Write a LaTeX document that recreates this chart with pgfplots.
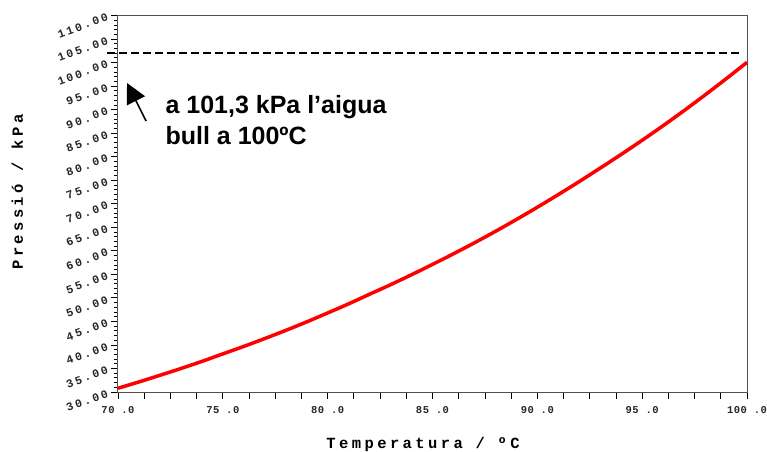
\documentclass[border=0pt]{standalone}
\usepackage{fontspec}
\setmainfont{Liberation Sans}
\newfontfamily\ytf[LetterSpace=20]{Liberation Mono}
\newfontfamily\xtf[LetterSpace=5]{Liberation Mono}
\newfontfamily\labf[LetterSpace=22]{Liberation Mono}
\usepackage{pgfplots}
\pgfplotsset{compat=1.18}
\usetikzlibrary{arrows.meta}
\definecolor{axgray}{HTML}{505050}
\begin{document}
\begin{tikzpicture}
\begin{axis}[
  name=main,
  scale only axis,
  width=629bp, height=376.5bp,
  xmin=70, xmax=100, ymin=30, ymax=110,
  clip=false,
  axis line style={draw=axgray, line width=1bp},
  xtick pos=lower, ytick pos=left,
  tick align=outside,
  major tick length=7bp, minor tick length=4bp,
  tick style={black, line width=0.8bp},
  xtick={70,71.25,...,100},
  xticklabels={70 .0,,,,75 .0,,,,80 .0,,,,85 .0,,,,90 .0,,,,95 .0,,,,100 .0},
  ytick={30,35,...,110},
  minor y tick num=4,
  yticklabels={30.00,35.00,40.00,45.00,50.00,55.00,60.00,65.00,70.00,75.00,80.00,85.00,90.00,95.00,100.00,105.00,110.00},
  yticklabel style={font=\fontsize{11.5bp}{13bp}\ytf\bfseries, rotate=20, anchor=east, text=black!85},
  xticklabel style={font=\fontsize{10.5bp}{13bp}\xtf\bfseries, text=black!85, yshift=-4bp},
  xlabel={Temperatura / ºC},
  ylabel={Pressió / kPa},
  xlabel style={font=\fontsize{15.5bp}{17bp}\labf\bfseries, at={(axis description cs:0.485,-0.151)}, anchor=base},
  ylabel style={font=\fontsize{15.5bp}{17bp}\labf\bfseries, at={(axis description cs:-0.160,0.531)}, anchor=center},
]
\addplot[red, line width=3.5bp, smooth] coordinates {
(70,30.80) (71,32.14) (72,33.55) (73,34.99) (74,36.50) (75,38.10) (76,39.69)
(77,41.36) (78,43.09) (79,44.90) (80,46.80) (81,48.73) (82,50.78) (83,52.80)
(84,54.92) (85,57.11) (86,59.37) (87,61.70) (88,64.13) (89,66.65) (90,69.26)
(91,71.95) (92,74.72) (93,77.58) (94,80.49) (95,83.49) (96,86.59) (97,89.80)
(98,93.12) (99,96.54) (100,100.05)};
\addplot[black, line width=1.6bp, dash pattern=on 8bp off 4bp] coordinates {(69.48,102) (99.76,102)};
\draw[line width=1.6bp, -{Triangle[length=20bp, width=20bp]}] (axis cs:71.34,87.59) -- (axis cs:70.43,95.66);
\node[anchor=base west, align=left, font=\fontsize{25bp}{31bp}\selectfont\bfseries] at (axis cs:72.10,82.49) {a 101,3 kPa l’aigua\\bull a 100ºC};
\end{axis}
\pgfresetboundingbox
\useasboundingbox (main.south west) ++(-118bp,-60bp) rectangle ++(767bp,452bp);
\end{tikzpicture}
\end{document}
